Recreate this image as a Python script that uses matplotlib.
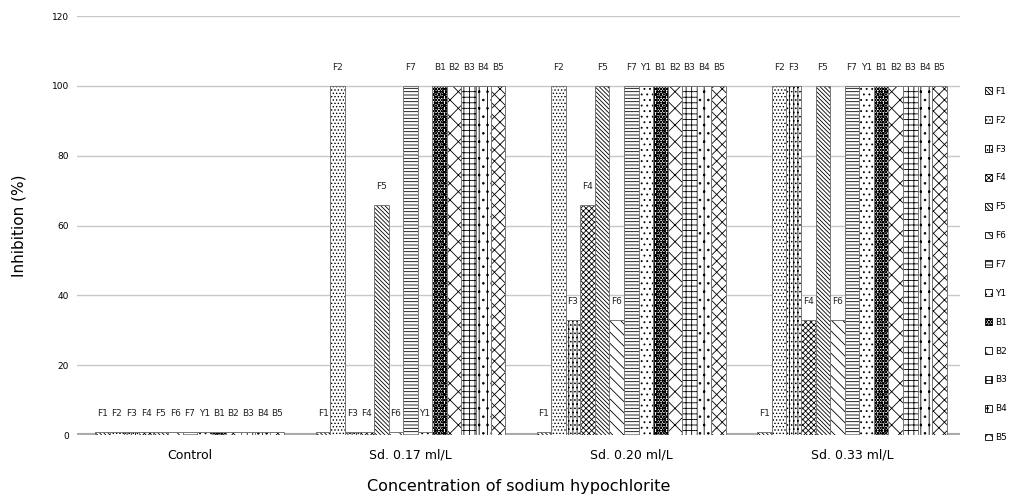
import numpy as np
import matplotlib
matplotlib.use('Agg')
import matplotlib.pyplot as plt
import matplotlib.patches as mpatches

# data
groups = ['Control', 'Sd. 0.17 ml/L', 'Sd. 0.20 ml/L', 'Sd. 0.33 ml/L']
series = ['F1', 'F2', 'F3', 'F4', 'F5', 'F6', 'F7', 'Y1', 'B1', 'B2', 'B3', 'B4', 'B5']
values = {
    'F1': [1, 1, 1, 1],
    'F2': [1, 100, 100, 100],
    'F3': [1, 1, 33, 100],
    'F4': [1, 1, 66, 33],
    'F5': [1, 66, 100, 100],
    'F6': [1, 1, 33, 33],
    'F7': [1, 100, 100, 100],
    'Y1': [1, 1, 100, 100],
    'B1': [1, 100, 100, 100],
    'B2': [1, 100, 100, 100],
    'B3': [1, 100, 100, 100],
    'B4': [1, 100, 100, 100],
    'B5': [1, 100, 100, 100],
}
hatches = ['\\' * 8, '.' * 5, '|' * 4 + '.' * 4, 'x' * 6, '\\' * 8, '\\' * 3,
           '-' * 5, '.' * 3, 'o' * 6 + 'x' * 6, 'x' * 2, '+' * 3, '|' * 2 + '.' * 2, 'x' * 3]

plt.rcParams['hatch.linewidth'] = 0.6

fig = plt.figure(figsize=(10.16, 5.03), dpi=100)
ax = fig.add_axes([0.076, 0.135, 0.869, 0.833])

x = np.arange(len(groups))
w = 0.066
for i, s in enumerate(series):
    pos = x + (i - 6) * w
    ax.bar(pos, values[s], w, color='white', edgecolor='black', linewidth=0,
           hatch=hatches[i], zorder=3)
    ax.bar(pos, values[s], w, fill=False, edgecolor='#777777', linewidth=0.7, zorder=4)
    for p, v in zip(pos, values[s]):
        ax.text(p, v + 4, s, ha='center', va='bottom', fontsize=6.5, color='#222222', zorder=5)

ax.set_xlim(-0.51, 3.49)
ax.set_ylim(0, 120)
ax.set_yticks(range(0, 121, 20))
ax.set_xticks(x)
ax.set_xticklabels(groups, fontsize=9)
ax.tick_params(axis='both', length=0)
ax.tick_params(axis='y', labelsize=6.5, pad=6)
ax.tick_params(axis='x', pad=10)
for sp in ax.spines.values():
    sp.set_visible(False)
ax.grid(axis='y', color='#c8c8c8', linewidth=1, zorder=0)
ax.axhline(0, color='#aaaaaa', linewidth=3, zorder=2)

ax.set_ylabel('Inhibition (%)', fontsize=11, labelpad=18)
ax.set_xlabel('Concentration of sodium hypochlorite', fontsize=11.5, labelpad=12)

handles = [mpatches.Patch(facecolor='white', edgecolor='black', linewidth=0.6, hatch=hatches[i])
           for i in range(len(series))]
ax.legend(handles=handles, labels=series, loc='upper left',
          bbox_to_anchor=(0.963, 0.84), bbox_transform=fig.transFigure,
          frameon=False, handlelength=0.8, handleheight=0.8, handletextpad=0.3,
          labelspacing=2.2, fontsize=6.5, borderpad=0.2)

fig.savefig('out.png', dpi=100)
